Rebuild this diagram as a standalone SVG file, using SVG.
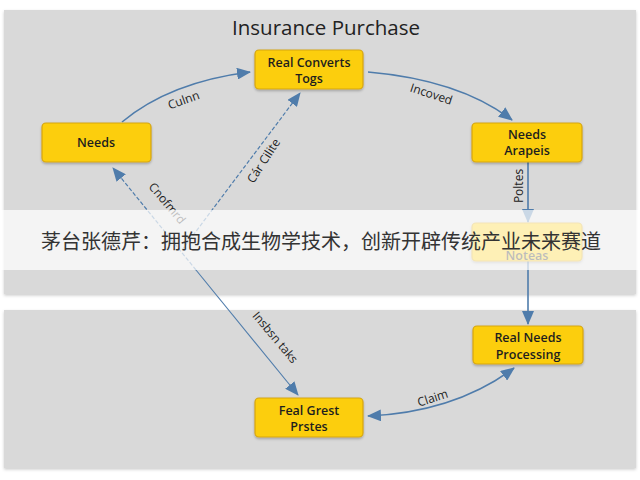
<svg xmlns="http://www.w3.org/2000/svg" width="640" height="480" viewBox="0 0 640 480">
<defs>
<filter id="sh" x="-10%" y="-10%" width="120%" height="130%"><feDropShadow dx="0" dy="1.5" stdDeviation="1.2" flood-color="#000" flood-opacity="0.25"/></filter>
<filter id="psh" x="-5%" y="-5%" width="110%" height="110%"><feDropShadow dx="0" dy="1.5" stdDeviation="1.5" flood-color="#000" flood-opacity="0.2"/></filter>
<marker id="ah" viewBox="0 0 14 12" refX="13" refY="6" markerWidth="14" markerHeight="12" markerUnits="userSpaceOnUse" orient="auto-start-reverse"><path d="M0,0 L14,6 L0,12 Z" fill="#4f7cab"/></marker>
</defs>
<style>
.panel{fill:#d9d9d9}
.node rect{fill:#fcce0c;stroke:#d6a514;stroke-width:1.2}
.nt{font-family:"Open Sans","Liberation Sans",sans-serif;font-weight:600;font-size:12.5px;fill:#1e1e1e;text-anchor:middle}
.c{fill:none;stroke:#4f7cab;stroke-width:1.6}
.cd{fill:none;stroke:#4f7cab;stroke-width:1.2;stroke-dasharray:4 2}
.ct{fill:none;stroke:#4f7cab;stroke-width:1.1}
.lb{font-family:"Open Sans","Liberation Sans",sans-serif;font-size:12px;fill:#222;text-anchor:middle}
</style>
<rect width="640" height="480" fill="#ffffff"/>
<rect class="panel" x="4" y="10" width="632" height="284" filter="url(#psh)"/>
<rect class="panel" x="4" y="310" width="632" height="158" filter="url(#psh)"/>
<text x="326" y="35" font-family="'Open Sans','Liberation Sans',sans-serif" font-size="20.5" fill="#222" text-anchor="middle">Insurance Purchase</text>

<g id="connectors">
<path class="c" d="M122,122 Q170,82 250,72" marker-end="url(#ah)"/>
<path class="c" d="M368,72 Q460,80 512,120" marker-end="url(#ah)"/>
<path class="c" d="M528,162 L528,222" marker-end="url(#ah)"/>
<path class="c" d="M528,261 L528,324" marker-end="url(#ah)"/>
<path class="cd" d="M182,250 L300,93" marker-end="url(#ah)"/>
<path class="cd" d="M196,270 L113,168" marker-end="url(#ah)"/>
<path class="ct" d="M196,270 L298,395" marker-end="url(#ah)"/>
<path class="c" d="M368,416 Q455,412 514,368" marker-start="url(#ah)" marker-end="url(#ah)"/>
<text class="lb" transform="translate(185,104) rotate(-20)">Culnn</text>
<text class="lb" transform="translate(430,98) rotate(18)">Incoved</text>
<text class="lb" transform="translate(267,163) rotate(-57)">Cár Cilite</text>
<text class="lb" transform="translate(164,206) rotate(50)">Cnofmrd</text>
<text class="lb" font-size="11" transform="translate(272,340) rotate(50)">Insbsn taks</text>
<text class="lb" transform="translate(523,186) rotate(-90)">Poltes</text>
<text class="lb" font-size="13" transform="translate(434,402) rotate(-18)">Claim</text>
</g>

<g id="n-real-converts" class="node"><rect x="255" y="50" width="108" height="39" rx="4" filter="url(#sh)"/><text class="nt" x="309" y="67">Real Converts</text><text class="nt" x="309" y="83">Togs</text></g>
<g id="n-needs" class="node"><rect x="42" y="123" width="109" height="39" rx="4" filter="url(#sh)"/><text class="nt" font-size="13" x="96" y="147">Needs</text></g>
<g id="n-needs-analysis" class="node"><rect x="472" y="123" width="110" height="39" rx="4" filter="url(#sh)"/><text class="nt" font-size="11.5" x="527" y="139">Needs</text><text class="nt" font-size="11.5" x="527" y="155">Arapeis</text></g>
<g id="n-faded" class="node"><rect x="472" y="223" width="110" height="38" rx="4" filter="url(#sh)"/><text class="nt" x="527" y="260" font-size="7.5" fill="#999">Noteas</text></g>
<g id="n-real-needs-processing" class="node"><rect x="473" y="326" width="110" height="38" rx="4" filter="url(#sh)"/><text class="nt" x="528" y="342" font-size="13.5">Real Needs</text><text class="nt" x="528" y="359" font-size="13.5">Processing</text></g>
<g id="n-feal-grest" class="node"><rect x="255" y="398" width="108" height="39" rx="4" filter="url(#sh)"/><text class="nt" x="309" y="415" font-size="13">Feal Grest</text><text class="nt" x="309" y="431" font-size="13">Prstes</text></g>

<rect x="0" y="210" width="640" height="60" fill="#ffffff" fill-opacity="0.7"/>
<text x="321" y="249" font-family="'Noto Sans CJK SC',sans-serif" font-size="20" fill="#333" text-anchor="middle">茅台张德芹：拥抱合成生物学技术，创新开辟传统产业未来赛道</text>
</svg>
